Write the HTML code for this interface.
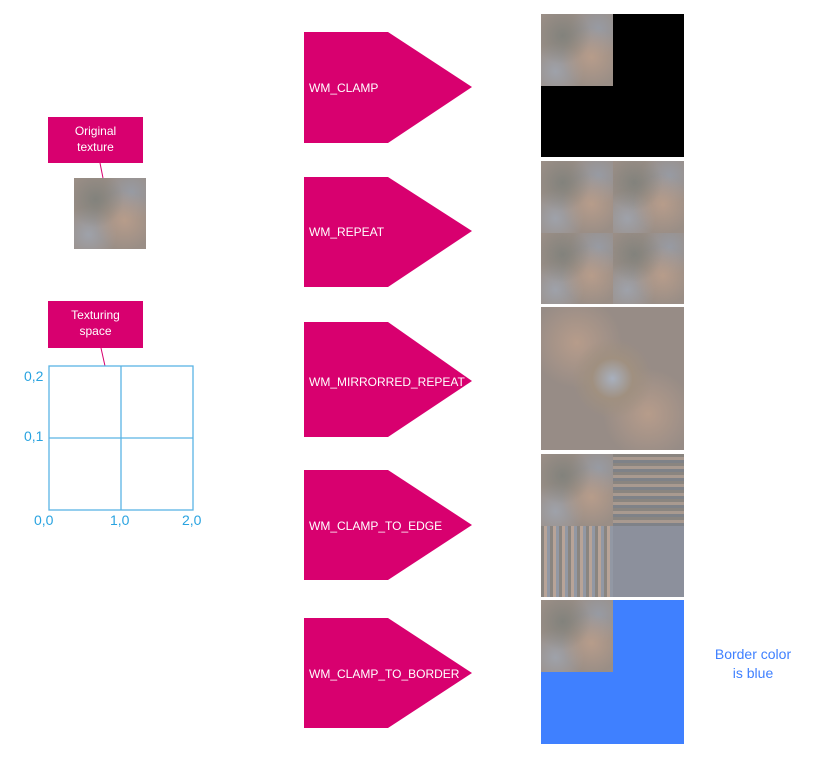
<!DOCTYPE html>
<html><head><style>
body{margin:0;background:#fff;width:822px;height:759px;position:relative;overflow:hidden;font-family:"Liberation Sans",sans-serif}
.a{position:absolute}
.tx{background:
radial-gradient(circle at 30% 30%,rgba(120,125,120,.7),transparent 40%),
radial-gradient(circle at 70% 60%,rgba(190,160,140,.8),transparent 45%),
radial-gradient(circle at 20% 80%,rgba(160,170,185,.7),transparent 35%),
radial-gradient(circle at 80% 20%,rgba(150,160,175,.7),transparent 35%),
#9a8e86}
.lbl{position:absolute;background:#d8006f;color:#fff;font-size:12px;text-align:center;line-height:16px;box-sizing:border-box;padding-top:6px}
.ax{position:absolute;color:#29a3e0;font-size:14px}
</style></head><body>
<div class="lbl" style="left:48px;top:117px;width:95px;height:46px">Original<br>texture</div>
<div class="tx a" style="left:74px;top:178px;width:72px;height:71px"></div>
<div class="lbl" style="left:48px;top:301px;width:95px;height:47px">Texturing<br>space</div>
<svg class="a" style="left:0;top:0" width="822" height="759">
<line x1="100" y1="163" x2="103" y2="178" stroke="#d8006f"/>
<line x1="101" y1="348" x2="105" y2="366" stroke="#d8006f"/>
<rect x="49" y="366" width="144" height="144" fill="none" stroke="#5ab4e4" stroke-width="1.3"/>
<line x1="121" y1="366" x2="121" y2="510" stroke="#5ab4e4" stroke-width="1.3"/>
<line x1="49" y1="438" x2="193" y2="438" stroke="#5ab4e4" stroke-width="1.3"/>
<g fill="#d8006f">
<polygon points="304,32 388,32 472,87 388,143 304,143"/>
<polygon points="304,177 388,177 472,231 388,287 304,287"/>
<polygon points="304,322 388,322 472,381 388,437 304,437"/>
<polygon points="304,470 388,470 472,525 388,580 304,580"/>
<polygon points="304,618 388,618 472,673 388,728 304,728"/>
</g>
<g fill="#fff" font-size="12" font-family="Liberation Sans, sans-serif">
<text x="309" y="92">WM_CLAMP</text>
<text x="309" y="236">WM_REPEAT</text>
<text x="309" y="386">WM_MIRRORRED_REPEAT</text>
<text x="309" y="530">WM_CLAMP_TO_EDGE</text>
<text x="309" y="678">WM_CLAMP_TO_BORDER</text>
</g>
</svg>
<div class="ax" style="left:24px;top:368px">0,2</div>
<div class="ax" style="left:24px;top:428px">0,1</div>
<div class="ax" style="left:34px;top:512px">0,0</div>
<div class="ax" style="left:110px;top:512px">1,0</div>
<div class="ax" style="left:182px;top:512px">2,0</div>
<!-- clamp -->
<div class="a" style="left:541px;top:14px;width:143px;height:143px;background:#000"></div>
<div class="tx a" style="left:541px;top:14px;width:72px;height:72px"></div>
<!-- repeat -->
<div class="a" style="left:541px;top:161px;width:143px;height:143px;display:grid;grid-template-columns:1fr 1fr">
<div class="tx"></div><div class="tx"></div><div class="tx"></div><div class="tx"></div></div>
<!-- mirror -->
<div class="a" style="left:541px;top:307px;width:143px;height:143px;background:radial-gradient(circle at 50% 50%,#a8b0be 0,#a09080 20%,transparent 40%),radial-gradient(circle at 25% 25%,rgba(190,160,140,.8),transparent 30%),radial-gradient(circle at 75% 75%,rgba(190,160,140,.8),transparent 30%),#978c86"></div>
<!-- edge -->
<div class="a" style="left:541px;top:454px;width:143px;height:143px;background:#8c909c"></div>
<div class="a" style="left:613px;top:454px;width:71px;height:72px;background:repeating-linear-gradient(180deg,#8a8580 0 3px,#a99a90 3px 6px,#7f8288 6px 9px)"></div>
<div class="a" style="left:541px;top:526px;width:72px;height:71px;background:repeating-linear-gradient(90deg,#8a8580 0 3px,#b8a498 3px 6px,#9298a4 6px 9px)"></div>
<div class="tx a" style="left:541px;top:454px;width:72px;height:72px"></div>
<!-- border -->
<div class="a" style="left:541px;top:600px;width:143px;height:144px;background:#3f80ff"></div>
<div class="tx a" style="left:541px;top:600px;width:72px;height:72px"></div>
<div class="a" style="left:700px;top:645px;width:106px;text-align:center;color:#3f80ff;font-size:14px;line-height:19px">Border color<br>is blue</div>
</body></html>
